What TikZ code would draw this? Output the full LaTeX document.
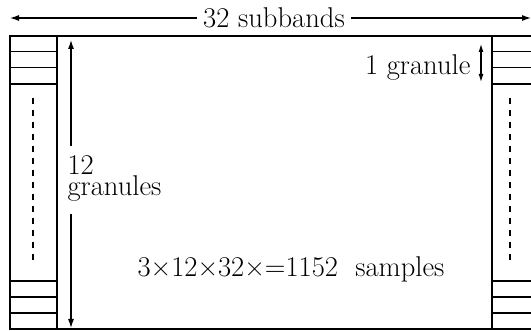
\documentclass[tikz,border=0pt]{standalone}
\usetikzlibrary{arrows.meta}
\begin{document}
\begin{tikzpicture}[x=1pt,y=-1pt,line width=1.1pt,
  lbl/.style={inner sep=0pt,font=\fontsize{28.6}{22}\selectfont},
  dim/.style={-{Latex[length=9pt,width=6pt]}},
  dimboth/.style={{Latex[length=8pt,width=5pt]}-{Latex[length=8pt,width=5pt]}},
  thickline/.style={line width=2.6pt},
  dashline/.style={dash pattern=on 6pt off 6pt}]
\useasboundingbox (0,0) rectangle (531,331);
% top dimension
\node[lbl,anchor=base] (sub) at (274,28) {32 subbands};
\coordinate (tl) at (10,18);
\coordinate (tr) at (531,18);
\draw[dim] (sub.west |- tl) ++(-6,0) coordinate (sl) -- (tl);
\draw[dim] (sub.east |- tr) ++(6,0) coordinate (sr) -- (tr);
% outer frame
\draw (531,36) -- (10,36) -- (10,329) -- (531,329);
% left column
\draw (57,36) -- (57,329);
\foreach \y in {51.5,67.5,297,313} \draw (10,\y) -- (57,\y);
\draw[thickline] (10,84) -- (57,84);
\draw[thickline] (10,281) -- (57,281);
\draw[dashline] (33,98) -- (33,264);
% right column
\draw (492,36) -- (492,329);
\foreach \y in {51.5,67.5,297,313} \draw (492,\y) -- (531,\y);
\draw[thickline] (492,84) -- (531,84);
\draw[thickline] (492,281) -- (531,281);
\draw[dashline] (510,98) -- (510,264);
% 12 granules
\node[lbl,anchor=base west] (twelve) at (67,175) {12};
\node[lbl,anchor=base west] (gran) at (67,196) {granules};
\coordinate (vt) at (71,40);
\coordinate (vb) at (71,328);
\coordinate (vs1) at (71,146);
\coordinate (vs2) at (71,214);
\draw[dim] (vs1) -- (vt);
\draw[dim] (vs2) -- (vb);
% 1 granule
\coordinate (ga) at (481,44);
\coordinate (gb) at (481,82);
\draw[dimboth] (ga) -- (gb);
\node[lbl,anchor=base east] (one) at (471,75) {1 granule};
% samples
\node[lbl,anchor=base west] (samp) at (137,277) {3×12×32×=1152\ \ samples};
\end{tikzpicture}
\end{document}
